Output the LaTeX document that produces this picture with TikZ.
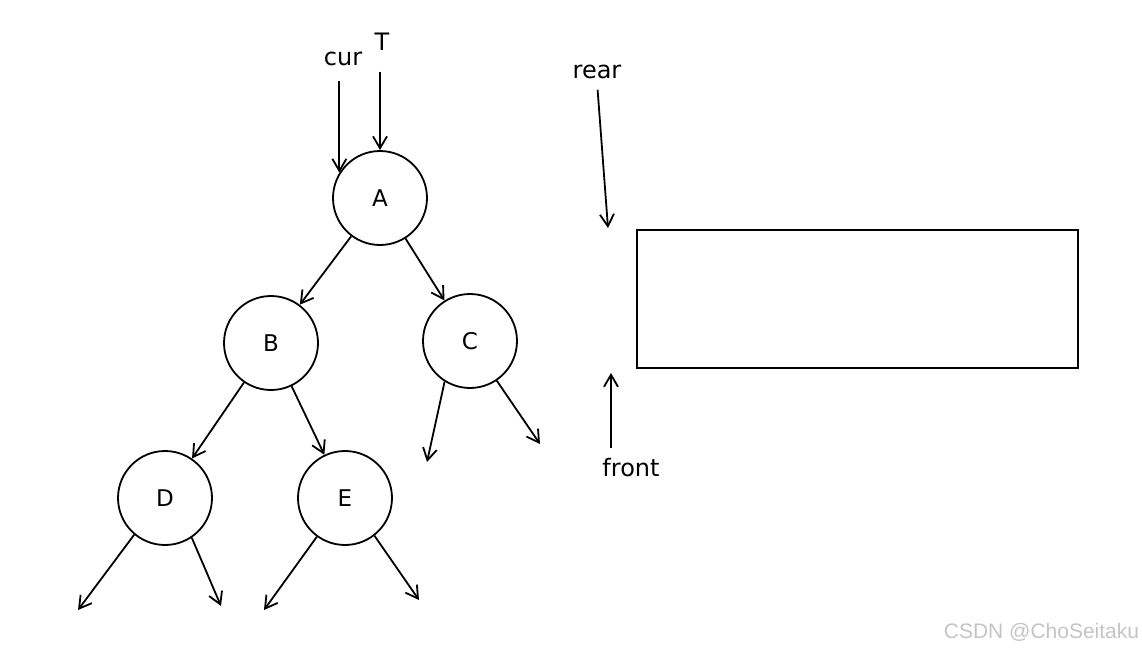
\documentclass[tikz,border=0pt]{standalone}
\usepackage{fontspec}
\setmainfont{DejaVu Sans}
\usepackage{tikz}
\usetikzlibrary{arrows.meta}
\definecolor{markgray}{HTML}{C4C4C4}
\begin{document}
\begin{tikzpicture}[x=0.5pt,y=-0.5pt,line width=0.9pt,
    vertex/.style={draw,circle,minimum size=47pt,inner sep=0pt,font=\fontsize{11.5}{13}\selectfont},
    ptr/.style={-{Straight Barb[length=6pt,width=7pt]}},
    lbl/.style={font=\fontsize{12}{14}\selectfont,inner sep=1pt}]
        \useasboundingbox (0,0) rectangle (1142,654);
        \node[vertex] (A) at (380,198) {A};
        \node[vertex] (B) at (271,343) {B};
        \node[vertex] (C) at (470,341) {C};
        \node[vertex] (D) at (165,498) {D};
        \node[vertex] (E) at (345,498) {E};
        \node[lbl] (cur) at (343,59) {cur};
        \node[lbl] (T) at (382,42) {T};
        \node[lbl] (rear) at (597,72) {rear};
        \node[lbl] (front) at (631,468) {front};
        \node[draw,minimum width=220.5pt,minimum height=69pt,inner sep=0pt] (queue) at (857.5,299) {};
        \node[font=\fontsize{10.5}{12}\selectfont\fontspec{Liberation Sans},text=markgray,anchor=east,inner sep=0pt] (mark) at (1140,632) {CSDN @ChoSeitaku};
        \coordinate (rearTip) at (608,228);
        \coordinate (frontTip) at (611,373);
        \coordinate (cl) at (427,462);
        \coordinate (cr) at (540,444);
        \coordinate (dl) at (78,610);
        \coordinate (dr) at (221,606);
        \coordinate (el) at (264,610);
        \coordinate (er) at (419,600);
        \draw[ptr] (A) -- (B);
        \draw[ptr] (A) -- (C);
        \draw[ptr] (B) -- (D);
        \draw[ptr] (B) -- (E);
        \draw[ptr] (C.238) -- (cl);
        \draw[ptr] (C.304) -- (cr);
        \draw[ptr] (D.230) -- (dl);
        \draw[ptr] (D.304) -- (dr);
        \draw[ptr] (E.234) -- (el);
        \draw[ptr] (E.308) -- (er);
        \draw[ptr,shorten <=6pt] (cur.south -| A.148) -- (A.148);
        \draw[ptr,shorten <=9pt] (T.south -| A.north) -- (A.north);
        \draw[ptr,shorten <=4pt] (rear.south) -- (rearTip);
        \draw[ptr,shorten <=4pt] (front.north -| frontTip) -- (frontTip);
\end{tikzpicture}
\end{document}
